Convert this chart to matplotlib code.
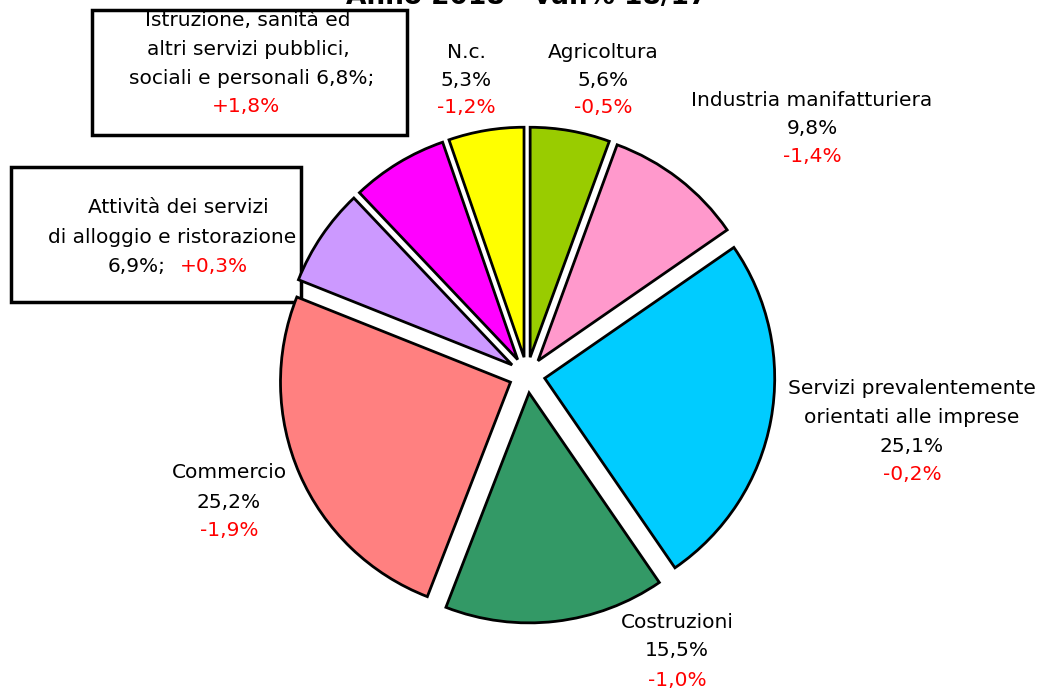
import matplotlib.pyplot as plt
from matplotlib.patches import Rectangle

# data, clockwise from 12 o'clock
sectors = ["Agricoltura", "Industria manifatturiera",
           "Servizi prevalentemente\norientati alle imprese", "Costruzioni",
           "Commercio", "Attività dei servizi\ndi alloggio e ristorazione",
           "Istruzione, sanità ed\naltri servizi pubblici,\nsociali e personali", "N.c."]
shares = [5.6, 9.8, 25.1, 15.5, 25.2, 6.9, 6.8, 5.3]
changes = ["-0,5%", "-1,4%", "-0,2%", "-1,0%", "-1,9%", "+0,3%", "+1,8%", "-1,2%"]
colors = ["#99CC00", "#FF99CC", "#00CCFF", "#339966",
          "#FF8080", "#CC99FF", "#FF00FF", "#FFFF00"]
title = "Anno 2018 - var.% 18/17"

W, H = 1050, 691
fig = plt.figure(figsize=(W / 100, H / 100), dpi=100)
ax = fig.add_axes([0, 0, 1, 1])

cx, cy, r = 527, H - 375, 230

# label boxes go behind the pie
ax.add_patch(Rectangle((92, H - 135), 315, 125, fill=False, lw=2.5, ec='black', zorder=1))
ax.add_patch(Rectangle((11, H - 302), 290, 135, fill=False, lw=2.5, ec='black', zorder=1))

# explode is in data units here (pixels)
wedges, _ = ax.pie(shares, colors=colors, startangle=90, counterclock=False,
                   explode=[18] * len(shares), center=(cx, cy), radius=r,
                   wedgeprops=dict(edgecolor='black', linewidth=2), frame=True)
for w in wedges:
    w.set_zorder(2)
ax.set_xlim(0, W)
ax.set_ylim(0, H)
ax.set_aspect('equal')
ax.axis('off')

fs = 14.5
red = '#FF0000'


def label(x, ys, name, share, change):
    lines = name.split("\n") + [f"{share:.1f}%".replace('.', ',')]
    for yy, t in zip(ys, lines):
        ax.text(x, H - yy, t, ha='center', va='center', fontsize=fs, zorder=3)
    ax.text(x, H - ys[len(lines)], change, ha='center', va='center',
            fontsize=fs, color=red, zorder=3)


label(603, [52, 80, 107], sectors[0], shares[0], changes[0])
label(812, [100, 128, 156], sectors[1], shares[1], changes[1])
label(912, [388, 417, 446, 474], sectors[2], shares[2], changes[2])
label(677, [623, 651, 680], sectors[3], shares[3], changes[3])
label(229, [473, 502, 530], sectors[4], shares[4], changes[4])
label(466, [52, 80, 107], sectors[7], shares[7], changes[7])

# Attività dei servizi (box)
l1, l2 = sectors[5].split("\n")
ax.text(178, H - 207, l1, ha='center', va='center', fontsize=fs, zorder=1.5)
ax.text(172, H - 237, l2, ha='center', va='center', fontsize=fs, zorder=1.5)
ax.text(166, H - 266, f"{shares[5]:.1f}%;".replace('.', ','), ha='right', va='center',
        fontsize=fs, zorder=1.5)
ax.text(180, H - 266, changes[5], ha='left', va='center', fontsize=fs, color=red, zorder=1.5)

# Istruzione (box)
b = sectors[6].split("\n")
ax.text(248, H - 20, b[0], ha='center', va='center', fontsize=fs, zorder=3)
ax.text(248, H - 49, b[1], ha='center', va='center', fontsize=fs, zorder=3)
ax.text(252, H - 78, b[2] + " " + f"{shares[6]:.1f}%;".replace('.', ','),
        ha='center', va='center', fontsize=fs, zorder=3)
ax.text(246, H - 106, changes[6], ha='center', va='center', fontsize=fs, color=red, zorder=3)

ax.text(cx, H - 4, title, ha='center', va='baseline', fontsize=19, fontweight='bold')

fig.savefig("out.png", dpi=100)
